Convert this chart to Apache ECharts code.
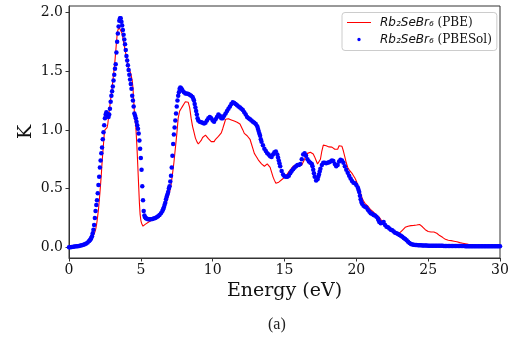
<!DOCTYPE html>
<html>
<head>
<meta charset="utf-8">
<script src="https://cdn.jsdelivr.net/npm/echarts@6/dist/echarts.min.js"></script>
<style>html,body{margin:0;padding:0;background:#fff}#c{width:517px;height:343px}</style>
</head>
<body>
<div id="c"></div>
<script>
// Extinction coefficient K vs energy (eV)
const xTicks = [0, 5, 10, 15, 20, 25, 30];
const yTicks = [0, 0.5, 1.0, 1.5, 2.0];
const seriesNames = ['PBE', 'PBESol'];

const pbe = [
[0,0.0],[0.5,0.005],[1.0,0.02],[1.2,0.03],[1.4,0.05],[1.5,0.065],[1.6,0.08],[1.7,0.10],[1.8,0.13],[1.85,0.15],[1.9,0.18],[1.95,0.22],
[2.0,0.27],[2.05,0.32],[2.1,0.39],[2.15,0.46],[2.2,0.54],[2.25,0.62],[2.3,0.72],[2.35,0.80],[2.4,0.88],[2.45,0.96],[2.5,1.00],[2.55,1.01],
[2.6,1.015],[2.65,1.02],[2.7,1.05],[2.8,1.16],[2.9,1.26],[3.0,1.36],[3.1,1.47],[3.2,1.59],[3.3,1.74],[3.35,1.81],[3.4,1.85],[3.5,1.87],
[3.6,1.86],[3.7,1.82],[3.8,1.75],[3.9,1.68],[4.0,1.62],[4.1,1.55],[4.2,1.51],[4.3,1.48],[4.35,1.47],[4.4,1.42],[4.45,1.36],[4.5,1.26],
[4.55,1.15],[4.6,1.08],[4.65,1.03],[4.7,0.92],[4.75,0.80],[4.8,0.66],[4.85,0.52],[4.9,0.38],[4.95,0.28],[5.0,0.23],[5.05,0.205],[5.1,0.19],
[5.15,0.18],[5.2,0.18],[5.3,0.195],[5.4,0.205],[5.6,0.22],[5.8,0.235],[6.0,0.25],[6.2,0.265],[6.4,0.29],[6.6,0.33],[6.8,0.39],[7.0,0.47],
[7.1,0.53],[7.2,0.62],[7.3,0.72],[7.4,0.84],[7.5,0.96],[7.6,1.10],[7.7,1.16],[7.8,1.18],[7.9,1.20],[8.0,1.22],[8.1,1.24],[8.2,1.255],
[8.3,1.235],[8.4,1.19],[8.5,1.10],[8.6,1.03],[8.7,0.98],[8.8,0.93],[8.9,0.90],[9.0,0.88],[9.1,0.89],[9.2,0.91],[9.3,0.935],[9.4,0.95],
[9.5,0.955],[9.6,0.94],[9.7,0.925],[9.8,0.91],[9.9,0.90],[10.0,0.89],[10.1,0.90],[10.2,0.92],[10.3,0.935],[10.4,0.945],[10.5,0.955],
[10.6,0.975],[10.7,1.01],[10.8,1.05],[10.9,1.09],[11.0,1.10],[11.1,1.095],[11.2,1.09],[11.3,1.085],[11.4,1.08],[11.5,1.075],[11.6,1.07],
[11.7,1.065],[11.8,1.06],[11.9,1.05],[12.0,1.04],[12.1,1.00],[12.2,0.97],[12.3,0.955],[12.4,0.95],[12.5,0.94],[12.6,0.92],[12.7,0.88],
[12.8,0.84],[12.9,0.80],[13.0,0.78],[13.1,0.76],[13.2,0.74],[13.3,0.725],[13.4,0.71],[13.5,0.70],[13.6,0.69],[13.7,0.695],[13.8,0.71],
[13.9,0.715],[14.0,0.68],[14.1,0.64],[14.2,0.60],[14.3,0.57],[14.4,0.545],[14.5,0.545],[14.6,0.555],[14.7,0.56],[14.8,0.575],[14.9,0.585],
[15.0,0.595],[15.1,0.61],[15.2,0.625],[15.3,0.64],[15.4,0.66],[15.5,0.675],[15.6,0.69],[15.7,0.695],[15.8,0.70],[15.9,0.70],[16.0,0.70],
[16.1,0.70],[16.2,0.70],[16.3,0.71],[16.4,0.75],[16.5,0.78],[16.6,0.80],[16.7,0.815],[16.8,0.81],[16.9,0.80],[17.0,0.795],[17.1,0.77],
[17.2,0.74],[17.3,0.71],[17.4,0.70],[17.5,0.75],[17.6,0.82],[17.7,0.87],[17.8,0.88],[17.9,0.865],[18.0,0.858],[18.1,0.855],[18.2,0.855],
[18.3,0.853],[18.4,0.85],[18.5,0.835],[18.6,0.82],[18.7,0.835],[18.8,0.865],[18.9,0.875],[19.0,0.86],[19.1,0.82],[19.2,0.77],[19.3,0.72],
[19.4,0.68],[19.5,0.66],[19.6,0.645],[19.7,0.63],[19.8,0.61],[19.9,0.59],[20.0,0.565],[20.1,0.53],[20.2,0.50],[20.3,0.46],[20.4,0.42],
[20.5,0.395],[20.6,0.375],[20.7,0.36],[20.8,0.35],[20.9,0.345],[21.0,0.32],[21.1,0.305],[21.2,0.30],[21.3,0.285],[21.4,0.275],[21.5,0.27],
[21.6,0.255],[21.7,0.24],[21.8,0.22],[21.9,0.21],[22.0,0.20],[22.1,0.18],[22.2,0.17],[22.3,0.16],[22.4,0.15],[22.6,0.14],[22.8,0.128],
[23.0,0.12],[23.1,0.125],[23.2,0.145],[23.3,0.16],[23.4,0.17],[23.6,0.18],[23.8,0.185],[24.0,0.187],[24.2,0.19],[24.4,0.195],[24.5,0.19],
[24.6,0.175],[24.7,0.16],[24.8,0.15],[24.9,0.14],[25.0,0.135],[25.2,0.13],[25.4,0.13],[25.6,0.12],[25.8,0.10],[26.0,0.085],[26.2,0.068],
[26.4,0.06],[26.6,0.057],[26.8,0.052],[27.0,0.047],[27.2,0.04],[27.4,0.035],[27.6,0.03],[27.8,0.025],[28.0,0.021],[28.3,0.016],[28.6,0.013],
[29.0,0.011],[29.5,0.009],[30.0,0.008]
];

const pbesol = [
[0,0.000],[0.1,0.001],[0.2,0.003],[0.3,0.004],[0.4,0.006],[0.5,0.008],[0.6,0.010],[0.7,0.012],[0.8,0.015],[0.9,0.018],[1.0,0.022],
[1.1,0.027],[1.2,0.033],[1.3,0.042],[1.4,0.053],[1.45,0.060],[1.5,0.068],[1.55,0.080],[1.6,0.095],[1.65,0.12],[1.7,0.15],[1.75,0.19],
[1.8,0.25],[1.85,0.31],[1.9,0.36],[1.95,0.40],[2.0,0.46],[2.05,0.53],[2.1,0.60],[2.15,0.68],[2.2,0.74],[2.25,0.80],[2.3,0.85],[2.35,0.92],
[2.4,0.98],[2.45,1.04],[2.5,1.10],[2.55,1.13],[2.6,1.15],[2.65,1.14],[2.7,1.12],[2.75,1.11],[2.8,1.13],[2.85,1.18],[2.9,1.24],[2.95,1.29],
[3.0,1.33],[3.05,1.37],[3.1,1.42],[3.15,1.47],[3.2,1.52],[3.25,1.56],[3.3,1.66],[3.35,1.75],[3.4,1.82],[3.45,1.88],[3.5,1.93],[3.55,1.95],
[3.6,1.95],[3.65,1.92],[3.7,1.89],[3.75,1.85],[3.8,1.81],[3.85,1.77],[3.9,1.73],[3.95,1.68],[4.0,1.63],[4.05,1.59],[4.1,1.55],[4.15,1.51],
[4.2,1.47],[4.25,1.43],[4.3,1.39],[4.35,1.35],[4.4,1.29],[4.45,1.25],[4.5,1.20],[4.55,1.14],[4.6,1.12],[4.65,1.10],[4.7,1.07],[4.75,1.04],
[4.8,1.01],[4.85,0.97],[4.9,0.91],[4.95,0.84],[5.0,0.76],[5.05,0.66],[5.1,0.52],[5.15,0.40],[5.2,0.31],[5.25,0.27],[5.3,0.255],[5.35,0.248],
[5.4,0.245],[5.5,0.24],[5.6,0.24],[5.7,0.24],[5.8,0.242],[5.9,0.245],[6.0,0.25],[6.1,0.257],[6.2,0.265],[6.3,0.275],[6.4,0.29],[6.5,0.31],
[6.55,0.325],[6.6,0.34],[6.65,0.36],[6.7,0.38],[6.75,0.41],[6.8,0.43],[6.85,0.45],[6.9,0.47],[6.95,0.50],[7.0,0.52],[7.05,0.56],[7.1,0.61],
[7.15,0.68],[7.2,0.78],[7.25,0.88],[7.3,0.96],[7.35,1.02],[7.4,1.08],[7.45,1.14],[7.5,1.20],[7.55,1.25],[7.6,1.29],[7.65,1.32],[7.7,1.35],
[7.75,1.36],[7.8,1.355],[7.85,1.345],[7.9,1.335],[8.0,1.32],[8.1,1.31],[8.2,1.31],[8.3,1.305],[8.4,1.30],[8.5,1.29],[8.6,1.28],[8.65,1.265],
[8.7,1.25],[8.75,1.22],[8.8,1.19],[8.85,1.16],[8.9,1.13],[8.95,1.10],[9.0,1.08],[9.1,1.07],[9.2,1.065],[9.3,1.06],[9.4,1.055],[9.5,1.06],
[9.6,1.08],[9.7,1.10],[9.8,1.11],[9.9,1.10],[10.0,1.08],[10.1,1.07],[10.2,1.09],[10.3,1.11],[10.4,1.13],[10.5,1.12],[10.6,1.10],[10.7,1.10],
[10.8,1.12],[10.9,1.14],[11.0,1.16],[11.1,1.18],[11.2,1.20],[11.3,1.22],[11.4,1.235],[11.5,1.23],[11.6,1.22],[11.7,1.21],[11.8,1.20],
[11.9,1.19],[12.0,1.18],[12.1,1.17],[12.2,1.15],[12.3,1.13],[12.4,1.11],[12.5,1.10],[12.6,1.09],[12.7,1.08],[12.8,1.07],[12.9,1.06],
[13.0,1.05],[13.1,1.03],[13.15,1.01],[13.2,0.99],[13.25,0.97],[13.3,0.95],[13.35,0.92],[13.4,0.90],[13.5,0.87],[13.6,0.84],[13.7,0.82],
[13.8,0.80],[13.9,0.79],[14.0,0.775],[14.1,0.77],[14.2,0.79],[14.3,0.81],[14.4,0.815],[14.5,0.79],[14.55,0.765],[14.6,0.74],[14.65,0.715],
[14.7,0.69],[14.8,0.65],[14.9,0.62],[15.0,0.605],[15.1,0.60],[15.2,0.60],[15.3,0.61],[15.4,0.63],[15.5,0.65],[15.6,0.665],[15.7,0.68],
[15.8,0.69],[15.9,0.70],[16.0,0.70],[16.1,0.71],[16.2,0.75],[16.3,0.79],[16.4,0.80],[16.5,0.78],[16.6,0.75],[16.7,0.73],[16.8,0.72],
[16.9,0.71],[16.95,0.69],[17.0,0.66],[17.05,0.63],[17.1,0.60],[17.2,0.57],[17.3,0.58],[17.35,0.60],[17.4,0.62],[17.45,0.645],[17.5,0.67],
[17.6,0.70],[17.7,0.72],[17.8,0.72],[17.9,0.715],[18.0,0.72],[18.1,0.725],[18.2,0.73],[18.3,0.74],[18.4,0.735],[18.5,0.71],[18.6,0.69],
[18.7,0.70],[18.8,0.73],[18.9,0.745],[19.0,0.74],[19.1,0.72],[19.2,0.69],[19.3,0.66],[19.4,0.635],[19.5,0.61],[19.6,0.585],[19.7,0.565],
[19.8,0.55],[19.9,0.545],[20.0,0.53],[20.1,0.51],[20.15,0.49],[20.2,0.47],[20.25,0.44],[20.3,0.41],[20.35,0.385],[20.4,0.37],[20.5,0.355],
[20.6,0.345],[20.7,0.34],[20.8,0.32],[20.9,0.305],[21.0,0.29],[21.1,0.285],[21.2,0.275],[21.3,0.27],[21.4,0.26],[21.5,0.245],[21.55,0.23],
[21.6,0.215],[21.7,0.205],[21.8,0.21],[21.9,0.215],[22.0,0.19],[22.1,0.175],[22.2,0.17],[22.3,0.16],[22.4,0.15],[22.5,0.145],[22.6,0.135],
[22.7,0.125],[22.8,0.12],[22.9,0.113],[23.0,0.105],[23.1,0.098],[23.2,0.09],[23.3,0.08],[23.4,0.07],[23.5,0.06],[23.6,0.048],[23.7,0.036],
[23.8,0.028],[23.9,0.024],[24.0,0.021],[24.1,0.020],[24.2,0.019],[24.3,0.018],[24.4,0.017],[24.5,0.017],[24.6,0.016],[24.7,0.016],
[24.8,0.015],[24.9,0.015],[25.0,0.014],[25.1,0.014],[25.2,0.014],[25.3,0.014],[25.4,0.014],[25.5,0.014],[25.6,0.013],[25.7,0.013],
[25.8,0.013],[25.9,0.013],[26.0,0.013],[26.1,0.012],[26.2,0.012],[26.3,0.012],[26.4,0.012],[26.5,0.012],[26.6,0.011],[26.7,0.011],
[26.8,0.011],[26.9,0.011],[27.0,0.011],[27.1,0.011],[27.2,0.011],[27.3,0.011],[27.4,0.011],[27.5,0.011],[27.6,0.010],[27.7,0.010],
[27.8,0.010],[27.9,0.010],[28.0,0.010],[28.1,0.010],[28.2,0.010],[28.3,0.010],[28.4,0.010],[28.5,0.010],[28.6,0.009],[28.7,0.009],
[28.8,0.009],[28.9,0.009],[29.0,0.009],[29.1,0.009],[29.2,0.009],[29.3,0.009],[29.4,0.009],[29.5,0.009],[29.6,0.008],[29.7,0.008],
[29.8,0.008],[29.9,0.008],[30.0,0.008]
];

const chart = echarts.init(document.getElementById('c'), null, {renderer: 'canvas'});
const spine = '#333';
const tickFont = {fontFamily: 'DejaVu Serif', fontSize: 14, color: '#111'};
const legendText = {
  fontFamily: 'DejaVu Serif', fontSize: 12, color: '#111', padding: [0, 0, 0, 4],
  rich: {
    i: {fontFamily: 'DejaVu Sans', fontStyle: 'italic', fontSize: 12, color: '#111'},
    n: {fontFamily: 'DejaVu Serif', fontSize: 12, color: '#111'}
  }
};
chart.setOption({
  animation: false,
  backgroundColor: '#fff',
  grid: {left: 69, top: 6, width: 431, height: 252, show: true, borderColor: spine, borderWidth: 1, containLabel: false},
  title: {
    text: '(a)', left: 268, top: 317, padding: 0,
    textStyle: {fontFamily: 'Liberation Serif', fontSize: 16, fontWeight: 'normal', color: '#222'}
  },
  legend: {
    orient: 'vertical', left: 342, top: 12.5,
    padding: [4, 5, 5, 5], itemGap: 5, itemWidth: 24, itemHeight: 12,
    borderColor: '#ccc', borderWidth: 1, borderRadius: 3, backgroundColor: 'rgba(255,255,255,0.8)',
    data: [
      {name: seriesNames[0], icon: 'path://M0,0L0.001,0M0,5.4H24V6.6H0ZM24,12L24.001,12'},
      {name: seriesNames[1], icon: 'path://M0,0L0.001,0M24,12L24.001,12M10.3,6a1.7,1.7 0 1,0 3.4,0a1.7,1.7 0 1,0 -3.4,0Z'}
    ],
    formatter: function (n) { return '{i|Rb\u2082SeBr\u2086} {n|(' + n + ')}'; },
    textStyle: legendText
  },
  xAxis: {
    type: 'value', min: 0, max: 30, interval: 5,
    name: 'Energy (eV)', nameLocation: 'middle', nameGap: 22,
    nameTextStyle: {fontFamily: 'DejaVu Serif', fontSize: 19, color: '#111'},
    axisLine: {show: true, onZero: false, lineStyle: {color: spine, width: 1}},
    axisTick: {show: true, length: 3.5, lineStyle: {color: spine}},
    axisLabel: Object.assign({margin: 5, customValues: xTicks}, tickFont),
    splitLine: {show: false}
  },
  yAxis: {
    type: 'value', min: -0.091, max: 2.055,
    name: 'K', nameLocation: 'middle', nameGap: 33, nameRotate: 90, nameMoveOverlap: false,
    nameTextStyle: {fontFamily: 'DejaVu Serif', fontSize: 19, color: '#111'},
    axisLine: {show: true, onZero: false, lineStyle: {color: spine, width: 1}},
    axisTick: {show: true, length: 3.5, lineStyle: {color: spine}, customValues: yTicks},
    axisLabel: Object.assign({margin: 6, customValues: yTicks, formatter: v => v.toFixed(1)}, tickFont),
    splitLine: {show: false}
  },
  series: [
    {
      name: seriesNames[0], type: 'line', data: pbe, symbol: 'none', smooth: false,
      lineStyle: {color: '#ff0000', width: 1.1}, itemStyle: {color: '#ff0000'}, z: 2
    },
    {
      name: seriesNames[1], type: 'scatter', data: pbesol, symbol: 'circle', symbolSize: 4.5,
      itemStyle: {color: '#0000ff', opacity: 1}, z: 3
    }
  ]
});
</script>
</body>
</html>
